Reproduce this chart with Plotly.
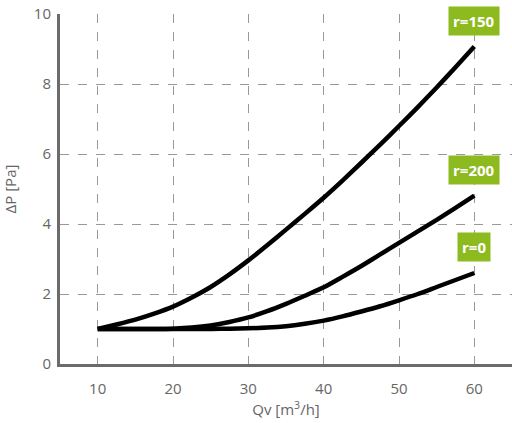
import plotly.graph_objects as go

qv = [10, 12.5, 15, 17.5, 20, 22.5, 25, 27.5, 30, 32.5, 35, 37.5, 40, 42.5, 45, 47.5, 50, 52.5, 55, 57.5, 60]
dp_r150 = [1.0, 1.13, 1.27, 1.44, 1.64, 1.9, 2.2, 2.56, 2.96, 3.39, 3.84, 4.29, 4.75, 5.24, 5.75, 6.27, 6.8, 7.34, 7.9, 8.48, 9.07]
dp_r200 = [1.0, 1.0, 1.0, 1.0, 1.01, 1.04, 1.1, 1.2, 1.33, 1.51, 1.72, 1.95, 2.19, 2.49, 2.8, 3.13, 3.46, 3.79, 4.12, 4.46, 4.81]
dp_r0 = [1.0, 1.0, 1.0, 1.0, 1.0, 1.0, 1.0, 1.01, 1.02, 1.04, 1.08, 1.15, 1.24, 1.36, 1.5, 1.65, 1.82, 2.0, 2.2, 2.4, 2.6]
labels = ["r=150", "r=200", "r=0"]
x_ticks = [10, 20, 30, 40, 50, 60]
y_ticks = [0, 2, 4, 6, 8, 10]

fig = go.Figure()
for ys in [dp_r150, dp_r200, dp_r0]:
    fig.add_trace(go.Scatter(x=qv, y=ys, mode="lines",
                             line=dict(color="black", width=4.5, shape="spline", smoothing=0.6),
                             showlegend=False, hoverinfo="skip"))

for lab, ys in zip(labels, [dp_r150, dp_r200, dp_r0]):
    fig.add_annotation(x=qv[-1], y=ys[-1], text="<b>" + lab + "</b>",
                       showarrow=False, yanchor="bottom", yshift=11,
                       font=dict(family="Open Sans", size=15, color="white"),
                       bgcolor="#8DBA1F", borderpad=4)

grid = dict(showgrid=True, gridcolor="#999999", griddash="dash", gridwidth=1)
tfont = dict(family="Open Sans", size=15, color="#666666")
fig.update_xaxes(range=[5, 65], tickvals=x_ticks, showline=True, linecolor="#6b6b6b",
                 linewidth=3, zeroline=False, ticks="", ticklabelstandoff=9,
                 tickfont=tfont,
                 title=dict(text="Qv [m<sup>3</sup>/h]", standoff=8, font=tfont),
                 **grid)
fig.update_yaxes(range=[0, 10], tickvals=y_ticks, showline=True, linecolor="#6b6b6b",
                 linewidth=3, zeroline=False, ticks="", ticklabelstandoff=3,
                 tickfont=tfont, ticklabeloverflow="allow",
                 title=dict(text="ΔP [Pa]", standoff=14, font=tfont),
                 **grid)

fig.update_layout(width=512, height=423, margin=dict(l=60, r=0, t=14, b=59),
                  plot_bgcolor="white", paper_bgcolor="white")
fig.write_html("out.html", config={"displayModeBar": False},
               post_script="document.body.style.margin='0';")
